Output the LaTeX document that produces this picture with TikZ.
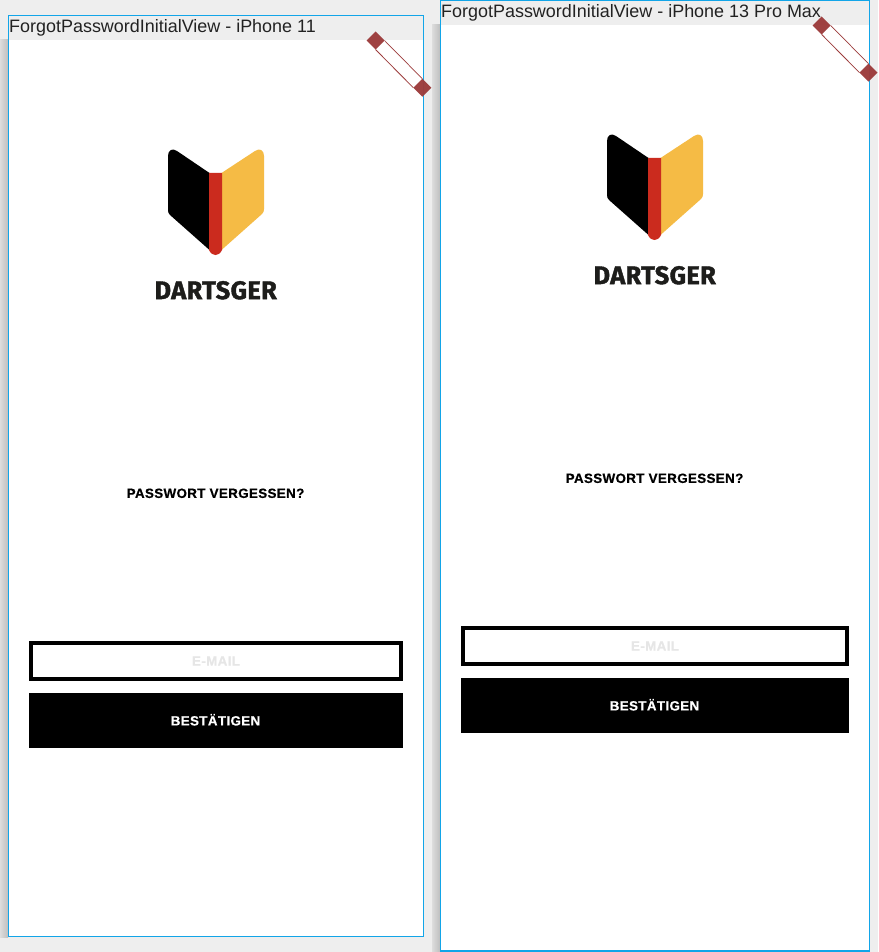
\documentclass[tikz,border=0pt]{standalone}
\usepackage{fontspec}
\setmainfont{Liberation Sans}
\newfontfamily\logofont[LetterSpace=1.5,FakeBold=1.6]{Fira Sans}
\newfontfamily\uifont[LetterSpace=2.6,FakeBold=0.5]{Liberation Sans}
\definecolor{canvas}{HTML}{EEEEEE}
\definecolor{shadowlight}{HTML}{DDDDDD}
\definecolor{shadowdark}{HTML}{BEBEBE}
\definecolor{framecyan}{HTML}{12A5E8}
\definecolor{handlered}{HTML}{9C3C3C}
\definecolor{bookred}{HTML}{CB2B1E}
\definecolor{bookyellow}{HTML}{F5BB45}
\definecolor{logotext}{HTML}{1D1D1B}
\definecolor{titletext}{HTML}{222222}
\definecolor{hinttext}{HTML}{E6E6E6}
\tikzset{
  frame/.style={draw=framecyan,line width=1.2pt,fill=white},
  titlelabel/.style={anchor=base west,inner sep=0pt,text=titletext,font=\fontsize{17.95}{20}\selectfont},
  logolabel/.style={inner sep=0pt,text=logotext,font=\logofont\bfseries\fontsize{25.4}{28}\selectfont},
  uilabel/.style={inner sep=0pt,font=\uifont\bfseries\fontsize{13.4}{15}\selectfont},
  field/.style={draw=black,line width=4pt,fill=white},
  handle/.style={fill=handlered,draw=none,opacity=.97},
}
\newcommand{\logoAt}[3]{%
 \begin{scope}[shift={(#1,#2)}]
  \fill[black] (168,156) .. controls (168,150.5) and (172,147.5) .. (177,151) -- (209.5,173) -- (209.5,250) -- (170,215) .. controls (168.5,213.5) and (168,212) .. (168,210) -- cycle;
  \fill[bookyellow] (264,156) .. controls (264,150.5) and (260,147.5) .. (255,151) -- (221.5,173) -- (221.5,250) -- (262,214) .. controls (263.5,212.5) and (264,211) .. (264,209) -- cycle;
  \fill[bookred] (209,173) -- (222,173) -- (222,250) .. controls (220.5,253.5) and (218,255) .. (215.5,255) .. controls (213,255) and (210.5,253.5) .. (209,250) -- cycle;
  \node[logolabel] (logotext#3) at (215.7,290.3) {DARTSGER};
 \end{scope}}
\newcommand{\handlesAt}[3]{%
 \begin{scope}[shift={(#1,#2)}]
  \fill[white] (375.5,49.5) -- (384.5,40.5) -- (422.3,78.7) -- (413.3,87.7) -- cycle;
  \draw[handlered,line width=.8pt] (375.5,49.5) -- (413.3,87.7);
  \draw[handlered,line width=.7pt] (384.5,40.5) -- (422.3,78.7);
  \path[handle] (375.5,31.5) -- (384.5,40.5) -- (375.5,49.5) -- (366.5,40.5) -- cycle;
  \path[handle] (422.3,78.7) -- (431.3,87.7) -- (422.3,96.7) -- (413.3,87.7) -- cycle;
  \coordinate (handle#3) at (375.5,40.5);
 \end{scope}}
\begin{document}
\begin{tikzpicture}[x=1pt,y=-1pt]
\useasboundingbox (0,0) rectangle (878,952);
\fill[canvas] (0,0) rectangle (878,952);
% shadows
\shade[left color=shadowlight,right color=shadowdark] (0,40) rectangle (8,937);
\shade[left color=shadowlight,right color=shadowdark] (432,25) rectangle (440,952);
% left screen
\path[frame] (8.5,15.5) rectangle (423.5,936.5);
\fill[canvas] (9.1,16.1) rectangle (422.9,40);
\node[titlelabel] (titleA) at (9,33) {ForgotPasswordInitialView - iPhone 11};
% right screen
\path[frame] (440.5,0.5) rectangle (869.5,951);
\fill[canvas] (441.1,1.1) rectangle (868.9,25);
\node[titlelabel] (titleB) at (441,18) {ForgotPasswordInitialView - iPhone 13 Pro Max};
\handlesAt{0}{0}{A}
\handlesAt{446.2}{-15}{B}
\logoAt{0}{0}{A}
\logoAt{439}{-15}{B}
\node[uilabel] (headA) at (215.5,493.3) {PASSWORT VERGESSEN?};
\node[uilabel] (headB) at (654.5,478.3) {PASSWORT VERGESSEN?};
\node[field,minimum width=370pt,minimum height=36pt,inner sep=0pt] (inputA) at (216,661) {};
\node[uilabel,text=hinttext] (hintA) at (216,661) {E-MAIL};
\node[field,minimum width=384pt,minimum height=36pt,inner sep=0pt] (inputB) at (655,646) {};
\node[uilabel,text=hinttext] (hintB) at (655,646) {E-MAIL};
\node[fill=black,minimum width=374pt,minimum height=55pt,inner sep=0pt] (buttonA) at (216,720.5) {};
\node[uilabel,text=white] (labelA) at (215.5,719.8) {BESTÄTIGEN};
\node[fill=black,minimum width=388pt,minimum height=55pt,inner sep=0pt] (buttonB) at (655,705.5) {};
\node[uilabel,text=white] (labelB) at (654.5,704.8) {BESTÄTIGEN};
\end{tikzpicture}
\end{document}
